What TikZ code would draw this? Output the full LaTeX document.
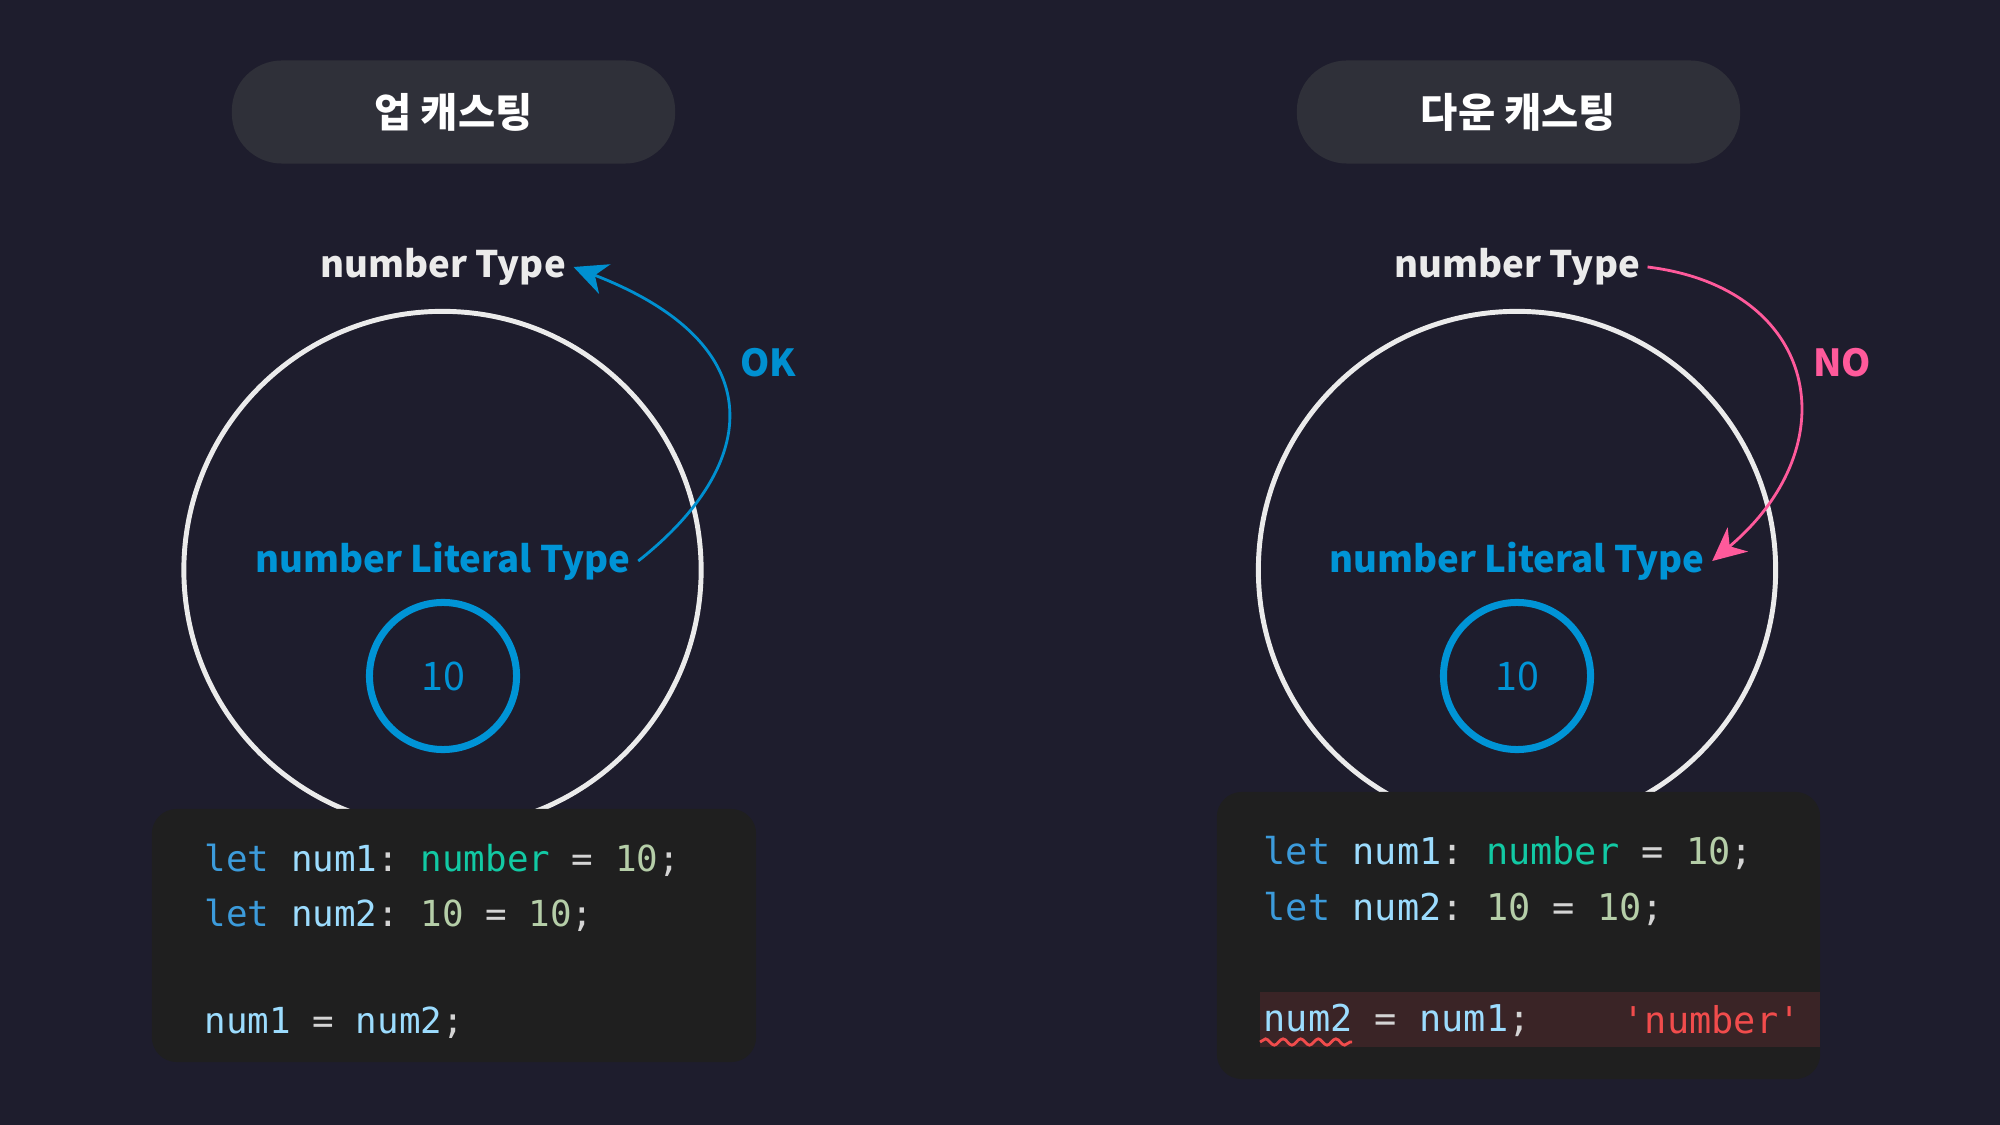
\documentclass[tikz,border=0pt]{standalone}
\usepackage{fontspec}
\setmainfont{Noto Sans CJK KR}
\setmonofont{DejaVu Sans Mono}
\usetikzlibrary{arrows.meta,decorations.pathmorphing}

\definecolor{bgc}{HTML}{1E1D2D}
\definecolor{pillc}{HTML}{2F3039}
\definecolor{codec}{HTML}{1F1F1F}
\definecolor{ringc}{HTML}{EBEBEB}
\definecolor{litc}{HTML}{0094D6}
\definecolor{okc}{HTML}{0090D0}
\definecolor{noc}{HTML}{FF5A9B}
\definecolor{kw}{HTML}{3C9BDB}
\definecolor{var}{HTML}{9CDCFE}
\definecolor{ty}{HTML}{12C9A4}
\definecolor{num}{HTML}{B5CEA8}
\definecolor{punc}{HTML}{D4D4D4}
\definecolor{errc}{HTML}{F14C4C}
\definecolor{errbg}{HTML}{3A2426}

\begin{document}
\begin{tikzpicture}[x=0.01cm,y=-0.01cm,
  pill/.style={fill=pillc,rounded corners=0.5cm,minimum width=4.43cm,minimum height=1.03cm,
    text=white,font=\bfseries\fontsize{11.5}{14}\selectfont},
  typename/.style={font=\bfseries\fontsize{10.4}{13}\selectfont,inner sep=2pt},
  ring/.style={circle,draw=ringc,line width=1.4pt,minimum size=5.17cm},
  valring/.style={circle,draw=litc,line width=2pt,minimum size=1.47cm,
    text=litc,font=\fontsize{11.2}{14}\selectfont},
  codebox/.style={fill=codec,rounded corners=0.25cm},
  codeline/.style={anchor=west,inner sep=0pt,font=\ttfamily\fontsize{10.2}{12}\selectfont},
  verdict/.style={font=\bfseries\fontsize{10.6}{13}\selectfont},
  castarrow/.style={line width=0.8pt,-{Stealth[length=9.5pt,width=9pt,inset=3pt]}}]
\useasboundingbox[fill=bgc] (0,0) rectangle (2000,1125);

% titles
\node[pill] (upT) at (453.5,112) {업 캐스팅};
\node[pill] (downT) at (1518.5,112) {다운 캐스팅};

% left: up casting
\node[ring] (outerL) at (442.5,570) {};
\node[valring] (valL) at (443,676) {10};
\node[typename,text=ringc] (typeL) at (443,267) {number Type};
\node[typename,text=litc] (litL) at (443,561) {number Literal Type};
\draw[castarrow,okc]
  (litL.east) .. controls (760,465) and (775,345) .. (typeL.east);
\node[verdict,text=okc] (okL) at (768,363) {OK};

\node[codebox,minimum width=6.04cm,minimum height=2.53cm] (codeL) at (454,935.5) {};
\node[codeline] (l1) at (204,860) {\color{kw}let \color{var}num1\color{punc}: \color{ty}number \color{punc}= \color{num}10\color{punc};};
\node[codeline] (l2) at (204,915) {\color{kw}let \color{var}num2\color{punc}: \color{num}10 \color{punc}= \color{num}10\color{punc};};
\node[codeline] (l3) at (204,1023) {\color{var}num1 \color{punc}= \color{var}num2\color{punc};};

% right: down casting
\node[ring] (outerR) at (1517,570) {};
\node[valring] (valR) at (1517,676) {10};
\node[typename,text=ringc] (typeR) at (1517,267) {number Type};
\node[typename,text=litc] (litR) at (1517,561) {number Literal Type};
\draw[castarrow,noc]
  (typeR.east) .. controls (1819,288) and (1850,445) .. (litR.east);
\node[verdict,text=noc] (noR) at (1842,363) {NO};

\node[codebox,minimum width=6.03cm,minimum height=2.87cm] (codeR) at (1518.5,935.5) {};
\fill[errbg] (1260,992) rectangle (1820,1047);
\node[codeline,font=\ttfamily\fontsize{10.5}{12}\selectfont] (r1) at (1263,853) {\color{kw}let \color{var}num1\color{punc}: \color{ty}number \color{punc}= \color{num}10\color{punc};};
\node[codeline,font=\ttfamily\fontsize{10.5}{12}\selectfont] (r2) at (1263,909) {\color{kw}let \color{var}num2\color{punc}: \color{num}10 \color{punc}= \color{num}10\color{punc};};
\node[codeline,font=\ttfamily\fontsize{10.5}{12}\selectfont] (r3) at (1263,1020) {\color{var}num2 \color{punc}= \color{var}num1\color{punc};};
\node[codeline,font=\ttfamily\fontsize{10.5}{12}\selectfont,text=errc] (msg) at (1622,1020) {'number'};
\draw[errc,line width=0.8pt,decorate,decoration={snake,amplitude=0.9pt,segment length=5pt}]
  (1260,1042) -- (1352,1042);
\end{tikzpicture}
\end{document}
